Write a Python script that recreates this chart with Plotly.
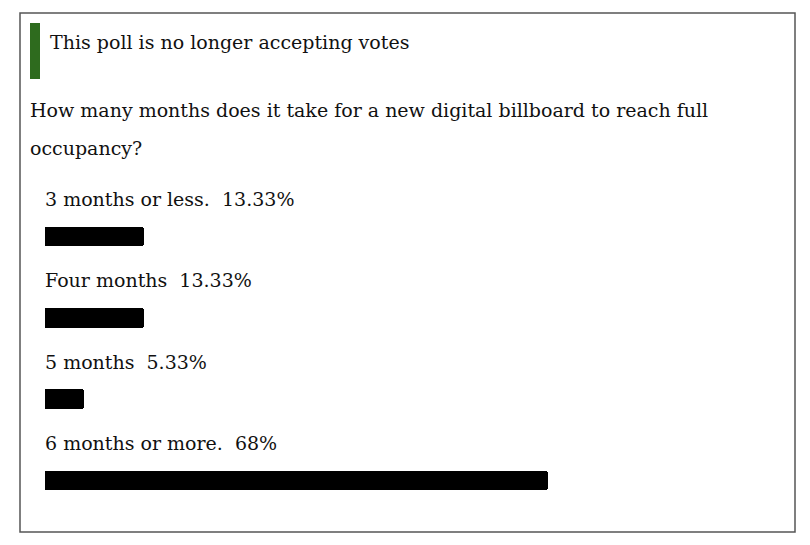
import plotly.graph_objects as go

# page body margin offsets the figure by 8px; work in window pixels
OFF = 8
W, H = 810 - OFF, 545 - OFF

status_text = "This poll is no longer accepting votes"
question_lines = ["How many months does it take for a new digital billboard to reach full",
                  "occupancy?"]
options = ["3 months or less.", "Four months", "5 months", "6 months or more."]
percents = [13.33, 13.33, 5.33, 68]
pct_labels = ["13.33%", "13.33%", "5.33%", "68%"]

FONT = "DejaVu Serif"
TXT = "#111111"
FS = 19

def px(x):
    return (x - OFF) / W

def py(y):
    return 1 - (y - OFF) / H

# bar area geometry (window pixels)
x_left, x_right = 45, 45 + 100 * 7.40
row0, row_step = 236.5, 81.3
y_top = row0 - 0.5 * row_step
y_bot = row0 + (len(options) - 0.5) * row_step

fig = go.Figure()
fig.add_trace(go.Bar(
    x=percents,
    y=list(range(len(options))),
    orientation="h",
    marker=dict(color="#000000", cornerradius=3, line=dict(width=0)),
    width=0.24,
    hoverinfo="skip",
))

annotations = []
for i, (o, p) in enumerate(zip(options, pct_labels)):
    annotations.append(dict(
        x=0, y=i, xref="x", yref="y", xanchor="left", yanchor="middle",
        text=f"{o}&nbsp;&nbsp;{p}", showarrow=False, yshift=37.5, xshift=-2,
        font=dict(family=FONT, size=FS, color=TXT),
    ))
annotations.append(dict(
    x=px(48), y=py(42), xref="paper", yref="paper", xanchor="left", yanchor="middle",
    text=status_text, showarrow=False, font=dict(family=FONT, size=FS, color=TXT),
))
for j, line in enumerate(question_lines):
    annotations.append(dict(
        x=px(28), y=py(110 + 38 * j), xref="paper", yref="paper", xanchor="left",
        yanchor="middle", text=line, showarrow=False,
        font=dict(family=FONT, size=FS, color=TXT),
    ))

shapes = [
    dict(type="rect", xref="paper", yref="paper", x0=px(20), x1=px(795), y0=py(532), y1=py(13),
         line=dict(color="#555555", width=1.5), fillcolor="rgba(0,0,0,0)", layer="below"),
    dict(type="rect", xref="paper", yref="paper", x0=px(30), x1=px(40), y0=py(79), y1=py(23),
         line=dict(width=0), fillcolor="#2e6b1e"),
]

fig.update_layout(
    width=W, height=H, margin=dict(l=0, r=0, t=0, b=0),
    paper_bgcolor="white", plot_bgcolor="white",
    showlegend=False, bargap=0,
    xaxis=dict(domain=[px(x_left), px(x_right)], range=[0, 100], visible=False, fixedrange=True),
    yaxis=dict(domain=[py(y_bot), py(y_top)], range=[len(options) - 0.5, -0.5], visible=False,
               fixedrange=True),
    annotations=annotations, shapes=shapes,
)

fig.write_html("out.html", config={"displayModeBar": False})
